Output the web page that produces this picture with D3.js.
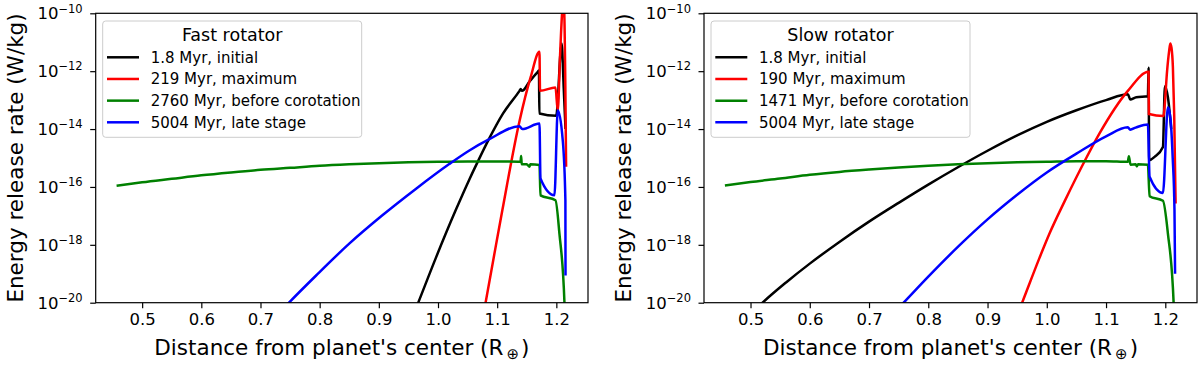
<!DOCTYPE html>
<html>
<head>
<meta charset="utf-8">
<script src="https://cdn.jsdelivr.net/npm/d3@7"></script>
<style>
  body { margin: 0; background: #fff; }
  svg { font-family: "DejaVu Sans", sans-serif; }
</style>
</head>
<body>
<div id="chart"></div>
<script>
// values: [distance (R_earth), log10 energy release rate (W/kg)]

var xTicks = [0.5, 0.6, 0.7, 0.8, 0.9, 1.0, 1.1, 1.2];
var yTicks = [-10, -12, -14, -16, -18, -20];
var seriesColors = ["#000000", "#ff0000", "#008000", "#0000ff"];

var fastLabels = ["1.8 Myr, initial", "219 Myr, maximum", "2760 Myr, before corotation", "5004 Myr, late stage"];
var slowLabels = ["1.8 Myr, initial", "190 Myr, maximum", "1471 Myr, before corotation", "5004 Myr, late stage"];

var fastInitial = [[0.955,-20.6],[0.9666,-20.0],[0.9964,-18.45],[1.03,-16.8],[1.053,-15.74],[1.0695,-15.03],
  [1.086,-14.35],[1.11,-13.46],[1.1378,-12.68],[1.1398,-12.62],[1.142,-12.68],[1.155,-12.35],[1.1686,-12.02],
  [1.1706,-11.98],[1.1713,-13.46],[1.1997,-13.54],[1.209,-11.04],[1.2125,-12.6],[1.2155,-14.0]];
var fastMaximum = [[1.075,-20.62],[1.0804,-20.0],[1.0985,-17.95],[1.1088,-16.8],[1.1378,-13.72],[1.1567,-12.2],
  [1.1715,-11.33],[1.1724,-12.68],[1.1985,-12.56],[1.2024,-13.35],[1.2062,-11.5],[1.2097,-10.0],[1.2115,-9.6],
  [1.2134,-10.0],[1.2152,-12.5],[1.2165,-15.3]];
var fastCorotation = [[0.4568,-15.96],[0.5,-15.84],[0.55,-15.72],[0.6,-15.6],[0.65,-15.5],[0.7,-15.41],[0.75,-15.34],
  [0.8,-15.27],[0.85,-15.22],[0.9,-15.18],[0.95,-15.15],[1.0,-15.13],[1.05,-15.12],[1.1,-15.12],[1.1395,-15.13],
  [1.1405,-14.93],[1.1415,-15.22],[1.15,-15.22],[1.1547,-15.3],[1.156,-15.22],[1.1715,-15.24],[1.1732,-16.29],
  [1.1985,-16.46],[1.2052,-17.61],[1.2137,-20.0],[1.2142,-20.3]];
var fastLate = [[0.74,-20.17],[0.749,-19.98],[0.794,-19.06],[0.85,-17.96],[0.906,-16.98],[0.963,-16.06],[1.019,-15.21],
  [1.053,-14.74],[1.086,-14.36],[1.1378,-13.9],[1.1423,-14.0],[1.1715,-13.81],[1.1732,-15.71],[1.1968,-16.29],
  [1.2024,-13.35],[1.2108,-14.38],[1.2153,-16.46],[1.2155,-19.06]];

var slowInitial = [[0.51,-20.2],[0.5203,-20.0],[0.56,-19.3],[0.6,-18.65],[0.65,-17.9],[0.7,-17.2],[0.75,-16.55],
  [0.8,-15.92],[0.85,-15.32],[0.9,-14.75],[0.95,-14.22],[1.0,-13.75],[1.05,-13.35],[1.1,-13.0],[1.137,-12.8],
  [1.1408,-12.98],[1.151,-12.9],[1.1706,-12.87],[1.1718,-11.88],[1.1728,-15.08],[1.1819,-14.96],[1.196,-14.62],
  [1.1993,-12.52],[1.2044,-12.9],[1.21,-14.0]];
var slowMaximum = [[0.946,-20.65],[0.9584,-20.0],[0.9877,-18.45],[1.0046,-17.61],[1.03,-16.5],[1.0666,-15.0],
  [1.089,-14.15],[1.1368,-12.68],[1.1718,-12.02],[1.1723,-13.48],[1.1971,-13.55],[1.1985,-13.3],[1.203,-12.0],
  [1.2065,-11.3],[1.2084,-11.04],[1.2105,-11.2],[1.2128,-11.85],[1.215,-13.5],[1.2174,-16.57]];
var slowCorotation = [[0.4568,-15.95],[0.5,-15.83],[0.55,-15.71],[0.6,-15.58],[0.65,-15.48],[0.7,-15.4],[0.75,-15.33],
  [0.8,-15.27],[0.85,-15.22],[0.9,-15.18],[0.95,-15.15],[1.0,-15.13],[1.05,-15.11],[1.1,-15.11],[1.1368,-15.13],
  [1.1385,-14.94],[1.1413,-15.23],[1.15,-15.22],[1.152,-15.29],[1.154,-15.22],[1.1706,-15.23],[1.1735,-16.32],
  [1.196,-16.48],[1.2044,-17.61],[1.214,-19.98],[1.2145,-20.3]];
var slowLate = [[0.75,-20.18],[0.7584,-20.0],[0.8,-19.1],[0.8525,-18.02],[0.9,-17.12],[0.95,-16.27],[1.0,-15.5],
  [1.05,-14.85],[1.1,-14.25],[1.1368,-13.94],[1.1408,-14.02],[1.15,-13.95],[1.1706,-13.84],[1.1735,-15.65],
  [1.196,-16.21],[1.2044,-13.25],[1.2085,-13.6],[1.2125,-15.0],[1.2155,-16.8],[1.2165,-19.0]];

var width = 1200, height = 365;
var plotTop = 13.3, plotBottom = 302.7;

var svg = d3.select("#chart").append("svg")
  .attr("width", width)
  .attr("height", height);

function drawPanel(id, left, right, title, labels, series) {
  var x = d3.scaleLinear().domain([0.4215, 1.2535]).range([left, right]);
  var y = d3.scaleLog().domain([1e-20, 1e-10]).range([plotBottom, plotTop]);
  var g = svg.append("g");

  g.append("clipPath").attr("id", "clip" + id)
    .append("rect")
    .attr("x", left).attr("y", plotTop)
    .attr("width", right - left).attr("height", plotBottom - plotTop);

  var line = d3.line()
    .curve(d3.curveMonotoneX)
    .x(function(d) { return x(d[0]); })
    .y(function(d) { return y(Math.pow(10, d[1])); });

  g.append("g").attr("clip-path", "url(#clip" + id + ")")
    .selectAll("path")
    .data(series)
    .enter()
    .append("path")
      .attr("d", line)
      .attr("fill", "none")
      .attr("stroke", function(d, i) { return seriesColors[i]; })
      .attr("stroke-width", 2.5)
      .attr("stroke-linejoin", "miter");

  // axes
  var xAxis = g.append("g")
    .attr("transform", "translate(0," + plotBottom + ")")
    .call(d3.axisBottom(x).tickValues(xTicks).tickFormat(d3.format(".1f")).tickSizeOuter(0).tickSize(5.5).tickPadding(5));
  var yAxis = g.append("g")
    .attr("transform", "translate(" + left + ",0)")
    .call(d3.axisLeft(y).tickValues(yTicks.map(function(e) { return Math.pow(10, e); }))
      .tickFormat("").tickSizeOuter(0).tickSize(5.5));
  [xAxis, yAxis].forEach(function(a) {
    a.select(".domain").remove();
    a.selectAll(".tick line").attr("stroke", "#000").attr("stroke-width", 1.2);
  });
  xAxis.selectAll(".tick text")
    .attr("font-size", 16.5).attr("fill", "#000")
    .attr("font-family", "DejaVu Sans");

  yTicks.forEach(function(e) {
    var t = g.append("text")
      .attr("x", left - 13)
      .attr("y", y(Math.pow(10, e)) + 5.8)
      .attr("text-anchor", "end")
      .attr("font-size", 16.5)
      .text("10");
    t.append("tspan")
      .attr("dy", -6.6)
      .attr("font-size", 11.5)
      .text("\u2212" + Math.abs(e));
  });

  g.append("rect")
    .attr("x", left).attr("y", plotTop)
    .attr("width", right - left).attr("height", plotBottom - plotTop)
    .attr("fill", "none").attr("stroke", "#000").attr("stroke-width", 1.2);

  // axis labels
  var xl = g.append("text")
    .attr("x", (left + right) / 2)
    .attr("y", 355)
    .attr("text-anchor", "middle")
    .attr("font-size", 21.5)
    .text("Distance from planet's center (R");
  xl.append("tspan").attr("font-size", 15).attr("dy", 4).attr("dx", 3).text("\u2295");
  xl.append("tspan").attr("dy", -4).attr("dx", 2).text(")");

  g.append("text")
    .attr("transform", "translate(" + (left - 73) + "," + ((plotTop + plotBottom) / 2) + ") rotate(-90)")
    .attr("text-anchor", "middle")
    .attr("font-size", 21.5)
    .text("Energy release rate (W/kg)");

  // legend
  var lx = left + 7, ly = 21;
  var leg = g.append("g");
  leg.append("rect")
    .attr("x", lx).attr("y", ly)
    .attr("width", 259).attr("height", 116.3)
    .attr("rx", 3)
    .attr("fill", "#fff").attr("fill-opacity", 0.8)
    .attr("stroke", "#cccccc").attr("stroke-width", 1);
  leg.append("text")
    .attr("x", lx + 129.5).attr("y", ly + 19.7)
    .attr("text-anchor", "middle")
    .attr("font-size", 17.5)
    .text(title);
  labels.forEach(function(lab, i) {
    var ry = ly + 36.3 + i * 21.67;
    leg.append("line")
      .attr("x1", lx + 4.3).attr("x2", lx + 36.3)
      .attr("y1", ry).attr("y2", ry)
      .attr("stroke", seriesColors[i]).attr("stroke-width", 2.5);
    leg.append("text")
      .attr("x", lx + 48).attr("y", ry + 5.4)
      .attr("font-size", 15)
      .text(lab);
  });
}

drawPanel("fast", 95.7, 588, "Fast rotator", fastLabels, [fastInitial, fastMaximum, fastCorotation, fastLate]);
drawPanel("slow", 704, 1197, "Slow rotator", slowLabels, [slowInitial, slowMaximum, slowCorotation, slowLate]);
</script>
</body>
</html>
